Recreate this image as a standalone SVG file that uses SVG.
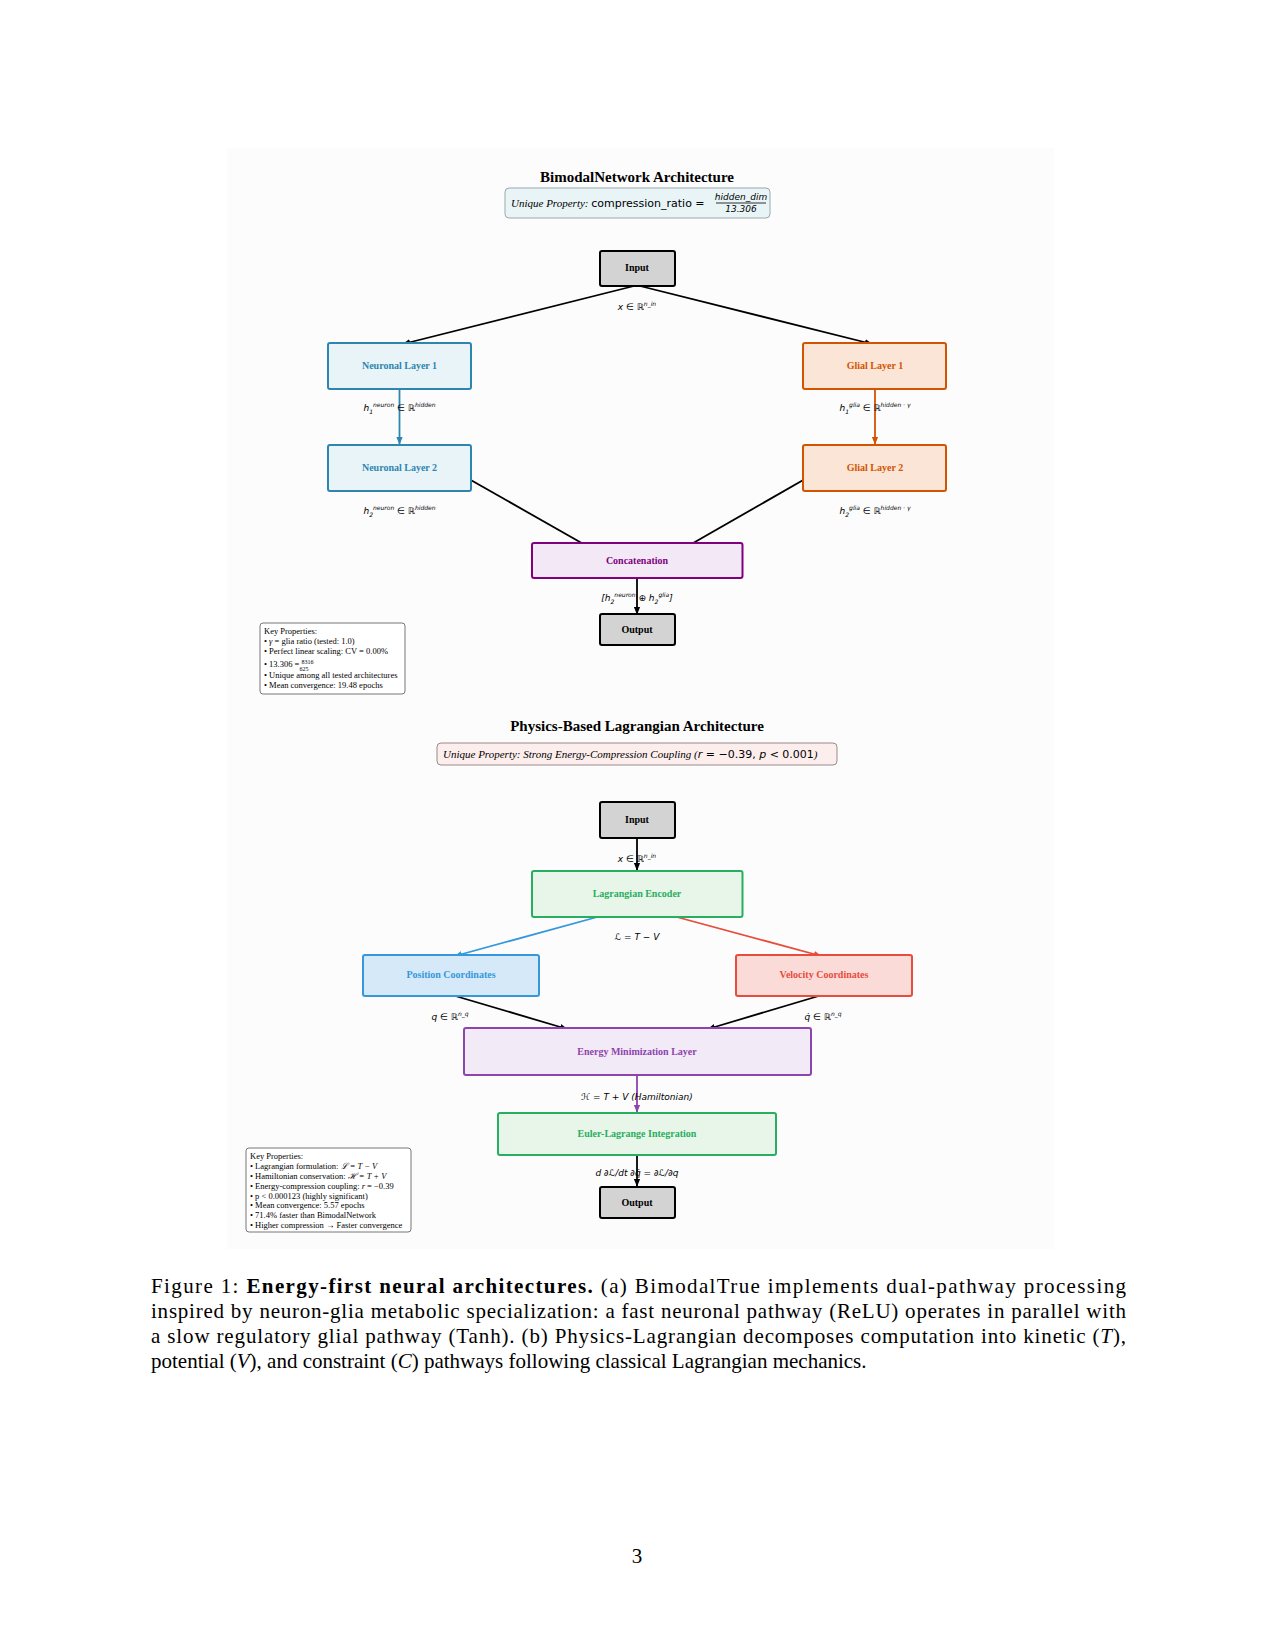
<svg xmlns="http://www.w3.org/2000/svg" width="1275" height="1650" viewBox="0 0 1275 1650">
<style>
text{font-family:"Liberation Serif",serif;}
.t{font-size:15px;font-weight:bold;text-anchor:middle;}
.n{font-size:10px;font-weight:bold;text-anchor:middle;}
.m{font-family:"DejaVu Sans",sans-serif;font-size:9px;font-style:italic;text-anchor:middle;}
.k{font-size:8.5px;}
.cap{font-size:21px;}
.box{stroke-width:2;}
</style>
<defs>
<marker id="ak" viewBox="0 0 10 10" refX="9" refY="5" markerWidth="8" markerHeight="8" orient="auto" markerUnits="userSpaceOnUse"><path d="M0,1 L10,5 L0,9 z" fill="#000"/></marker>
<marker id="ab" viewBox="0 0 10 10" refX="9" refY="5" markerWidth="8" markerHeight="8" orient="auto" markerUnits="userSpaceOnUse"><path d="M0,1 L10,5 L0,9 z" fill="#2e86b0"/></marker>
<marker id="ao" viewBox="0 0 10 10" refX="9" refY="5" markerWidth="8" markerHeight="8" orient="auto" markerUnits="userSpaceOnUse"><path d="M0,1 L10,5 L0,9 z" fill="#d35400"/></marker>
<marker id="al" viewBox="0 0 10 10" refX="9" refY="5" markerWidth="8" markerHeight="8" orient="auto" markerUnits="userSpaceOnUse"><path d="M0,1 L10,5 L0,9 z" fill="#3498db"/></marker>
<marker id="ar" viewBox="0 0 10 10" refX="9" refY="5" markerWidth="8" markerHeight="8" orient="auto" markerUnits="userSpaceOnUse"><path d="M0,1 L10,5 L0,9 z" fill="#e74c3c"/></marker>
<marker id="ap" viewBox="0 0 10 10" refX="9" refY="5" markerWidth="8" markerHeight="8" orient="auto" markerUnits="userSpaceOnUse"><path d="M0,1 L10,5 L0,9 z" fill="#8e44ad"/></marker>
</defs>
<rect width="1275" height="1650" fill="#fff"/>
<rect x="227" y="148" width="827" height="1101" fill="#fcfcfc"/>

<text class="t" x="637" y="182">BimodalNetwork Architecture</text>
<g id="prop1"><rect x="505" y="188" width="265" height="30" rx="4" fill="#e9f4f7" stroke="#9aa8ad"/>
<text x="511" y="207" font-size="11" font-style="italic">Unique Property: <tspan font-family="DejaVu Sans,sans-serif" font-style="normal">compression_ratio =</tspan></text>
<text x="741" y="200" class="m" font-size="8">hidden_dim</text><line x1="716" y1="203" x2="766" y2="203" stroke="#000" stroke-width="0.8"/><text x="741" y="212" class="m" font-size="8" font-style="normal">13.306</text></g>

<g id="connectors" fill="none" stroke-width="1.8">
<line x1="634" y1="286" x2="403" y2="344" stroke="#000" marker-end="url(#ak)"/>
<line x1="640" y1="286" x2="872" y2="344" stroke="#000" marker-end="url(#ak)"/>
<line x1="399.5" y1="389" x2="399.5" y2="444" stroke="#2e86b0" marker-end="url(#ab)"/>
<line x1="875" y1="389" x2="875" y2="444" stroke="#d35400" marker-end="url(#ao)"/>
<line x1="469" y1="479" x2="601" y2="554" stroke="#000" marker-end="url(#ak)"/>
<line x1="805" y1="479" x2="674" y2="554" stroke="#000" marker-end="url(#ak)"/>
<line x1="637" y1="578" x2="637" y2="614" stroke="#000" marker-end="url(#ak)"/>
<line x1="637" y1="838" x2="637" y2="870" stroke="#000" marker-end="url(#ak)"/>
<line x1="601" y1="916" x2="455" y2="956" stroke="#3498db" marker-end="url(#al)"/>
<line x1="673" y1="916" x2="821" y2="956" stroke="#e74c3c" marker-end="url(#ar)"/>
<line x1="452" y1="995" x2="567" y2="1029" stroke="#000" marker-end="url(#ak)"/>
<line x1="822" y1="995" x2="708" y2="1029" stroke="#000" marker-end="url(#ak)"/>
<line x1="637" y1="1075" x2="637" y2="1112" stroke="#8e44ad" marker-end="url(#ap)"/>
<line x1="637" y1="1155" x2="637" y2="1186" stroke="#000" marker-end="url(#ak)"/>
</g>

<g id="input1"><rect class="box" x="600" y="251" width="75" height="35" rx="2" fill="#d3d3d3" stroke="#000"/><text class="n" x="637" y="271">Input</text></g>
<text class="m" x="637" y="310">x ∈ ℝ<tspan font-size="6" dy="-4">n_in</tspan></text>
<g id="neuron1"><rect class="box" x="328" y="343" width="143" height="46" rx="2" fill="#e8f4f8" stroke="#2e86b0"/><text class="n" x="399.5" y="369" fill="#2e86b0">Neuronal Layer 1</text></g>
<g id="glia1"><rect class="box" x="803" y="343" width="143" height="46" rx="2" fill="#fbe5d6" stroke="#d35400"/><text class="n" x="875" y="369" fill="#d35400">Glial Layer 1</text></g>
<text class="m" x="399.5" y="411">h<tspan font-size="6" dy="3">1</tspan><tspan font-size="6" dy="-7">neuron</tspan><tspan dy="4"> ∈ ℝ</tspan><tspan font-size="6" dy="-4">hidden</tspan></text>
<text class="m" x="875" y="411">h<tspan font-size="6" dy="3">1</tspan><tspan font-size="6" dy="-7">glia</tspan><tspan dy="4"> ∈ ℝ</tspan><tspan font-size="6" dy="-4">hidden · γ</tspan></text>
<g id="neuron2"><rect class="box" x="328" y="445" width="143" height="46" rx="2" fill="#e8f4f8" stroke="#2e86b0"/><text class="n" x="399.5" y="471" fill="#2e86b0">Neuronal Layer 2</text></g>
<g id="glia2"><rect class="box" x="803" y="445" width="143" height="46" rx="2" fill="#fbe5d6" stroke="#d35400"/><text class="n" x="875" y="471" fill="#d35400">Glial Layer 2</text></g>
<text class="m" x="399.5" y="514">h<tspan font-size="6" dy="3">2</tspan><tspan font-size="6" dy="-7">neuron</tspan><tspan dy="4"> ∈ ℝ</tspan><tspan font-size="6" dy="-4">hidden</tspan></text>
<text class="m" x="875" y="514">h<tspan font-size="6" dy="3">2</tspan><tspan font-size="6" dy="-7">glia</tspan><tspan dy="4"> ∈ ℝ</tspan><tspan font-size="6" dy="-4">hidden · γ</tspan></text>
<g id="concat"><rect class="box" x="532" y="543" width="210.5" height="35" rx="2" fill="#f3e9f6" stroke="#800080"/><text class="n" x="637" y="564" fill="#800080">Concatenation</text></g>
<text class="m" x="637" y="601">[h<tspan font-size="6" dy="3">2</tspan><tspan font-size="6" dy="-7">neuron</tspan><tspan dy="4"> ⊕ h</tspan><tspan font-size="6" dy="3">2</tspan><tspan font-size="6" dy="-7">glia</tspan><tspan dy="4">]</tspan></text>
<g id="output1"><rect class="box" x="600" y="614" width="75" height="31" rx="2" fill="#d3d3d3" stroke="#000"/><text class="n" x="637" y="633">Output</text></g>
<g id="key1"><rect x="260" y="623" width="145" height="71" rx="3" fill="#fff" stroke="#777"/>
<text class="k" x="264" y="634">Key Properties:</text>
<text class="k" x="264" y="644">• <tspan font-style="italic">γ</tspan> = glia ratio (tested: 1.0)</text>
<text class="k" x="264" y="654">• Perfect linear scaling: CV = 0.00%</text>
<text class="k" x="264" y="667">• 13.306 = <tspan font-size="6" dy="-3">8316</tspan><tspan font-size="6" dx="-14" dy="7">625</tspan></text>
<text class="k" x="264" y="678">• Unique among all tested architectures</text>
<text class="k" x="264" y="688">• Mean convergence: 19.48 epochs</text></g>

<text class="t" x="637" y="731">Physics-Based Lagrangian Architecture</text>
<g id="prop2"><rect x="437" y="743" width="400" height="22" rx="4" fill="#fdeeee" stroke="#9a8a8a"/>
<text x="443" y="758" font-size="11" font-style="italic">Unique Property: Strong Energy-Compression Coupling (<tspan font-family="DejaVu Sans,sans-serif">r</tspan><tspan font-family="DejaVu Sans,sans-serif" font-style="normal"> = −0.39, </tspan><tspan font-family="DejaVu Sans,sans-serif">p</tspan><tspan font-family="DejaVu Sans,sans-serif" font-style="normal"> &lt; 0.001</tspan>)</text></g>

<g id="input2"><rect class="box" x="600" y="802" width="75" height="36" rx="2" fill="#d3d3d3" stroke="#000"/><text class="n" x="637" y="823">Input</text></g>
<text class="m" x="637" y="862">x ∈ ℝ<tspan font-size="6" dy="-4">n_in</tspan></text>
<g id="encoder"><rect class="box" x="532" y="871" width="210.5" height="46" rx="2" fill="#e8f6e9" stroke="#27ae60"/><text class="n" x="637" y="897" fill="#27ae60">Lagrangian Encoder</text></g>
<text class="m" x="637" y="940">ℒ = T − V</text>
<g id="position"><rect class="box" x="363" y="955" width="176" height="41" rx="2" fill="#d6e9f8" stroke="#3498db"/><text class="n" x="451" y="978" fill="#3498db">Position Coordinates</text></g>
<g id="velocity"><rect class="box" x="736" y="955" width="176" height="41" rx="2" fill="#fadbd8" stroke="#e74c3c"/><text class="n" x="824" y="978" fill="#e74c3c">Velocity Coordinates</text></g>
<text class="m" x="450" y="1020">q ∈ ℝ<tspan font-size="6" dy="-4">n_q</tspan></text>
<text class="m" x="823" y="1020">q̇ ∈ ℝ<tspan font-size="6" dy="-4">n_q</tspan></text>
<g id="energy"><rect class="box" x="464" y="1028" width="347" height="47" rx="2" fill="#f3eaf8" stroke="#8e44ad"/><text class="n" x="637" y="1055" fill="#8e44ad">Energy Minimization Layer</text></g>
<text class="m" x="637" y="1100">ℋ = T + V (Hamiltonian)</text>
<g id="euler"><rect class="box" x="498" y="1113" width="278" height="42" rx="2" fill="#e8f6e9" stroke="#27ae60"/><text class="n" x="637" y="1137" fill="#27ae60">Euler-Lagrange Integration</text></g>
<text class="m" x="637" y="1176" font-size="7">d ∂ℒ/dt ∂q̇ = ∂ℒ/∂q</text>
<g id="output2"><rect class="box" x="600" y="1187" width="75" height="31" rx="2" fill="#d3d3d3" stroke="#000"/><text class="n" x="637" y="1206">Output</text></g>
<g id="key2"><rect x="246" y="1148" width="165" height="84" rx="3" fill="#fff" stroke="#777"/>
<text class="k" x="250" y="1159">Key Properties:</text>
<text class="k" x="250" y="1169">• Lagrangian formulation: <tspan font-style="italic">ℒ = T − V</tspan></text>
<text class="k" x="250" y="1179">• Hamiltonian conservation: <tspan font-style="italic">ℋ = T + V</tspan></text>
<text class="k" x="250" y="1189">• Energy-compression coupling: <tspan font-style="italic">r</tspan> = −0.39</text>
<text class="k" x="250" y="1199">• p &lt; 0.000123 (highly significant)</text>
<text class="k" x="250" y="1208">• Mean convergence: 5.57 epochs</text>
<text class="k" x="250" y="1218">• 71.4% faster than BimodalNetwork</text>
<text class="k" x="250" y="1228">• Higher compression → Faster convergence</text></g>

<g id="caption">
<text class="cap" x="151" y="1293" textLength="975" lengthAdjust="spacing">Figure 1:  <tspan font-weight="bold">Energy-first neural architectures.</tspan>  (a) BimodalTrue implements dual-pathway processing</text>
<text class="cap" x="151" y="1318" textLength="975" lengthAdjust="spacing">inspired by neuron-glia metabolic specialization: a fast neuronal pathway (ReLU) operates in parallel with</text>
<text class="cap" x="151" y="1343" textLength="975" lengthAdjust="spacing">a slow regulatory glial pathway (Tanh).  (b) Physics-Lagrangian decomposes computation into kinetic (<tspan font-style="italic">T</tspan>),</text>
<text class="cap" x="151" y="1368">potential (<tspan font-style="italic">V</tspan>), and constraint (<tspan font-style="italic">C</tspan>) pathways following classical Lagrangian mechanics.</text>
</g>
<text class="cap" x="637" y="1563" text-anchor="middle">3</text>
</svg>
